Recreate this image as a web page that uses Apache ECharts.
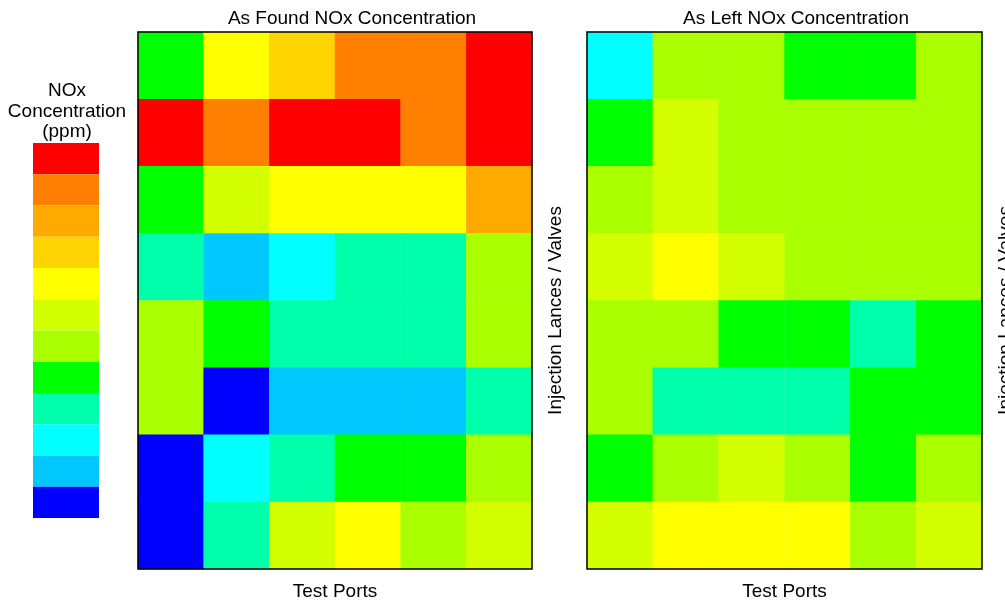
<!DOCTYPE html>
<html>
<head>
<meta charset="utf-8">
<script src="https://cdn.jsdelivr.net/npm/echarts@6/dist/echarts.min.js"></script>
<style>html,body{margin:0;padding:0;background:#fff}#c{width:1005px;height:602px}</style>
</head>
<body>
<div id="c"></div>
<script>
// Test ports (columns) and injection lances / valves (rows, top to bottom)
var testPorts = ['1', '2', '3', '4', '5', '6'];
var lances = ['1', '2', '3', '4', '5', '6', '7', '8'];

// NOx concentration level (0 = lowest band, 11 = highest band), rows top to bottom
var asFound = [
  [4, 7, 8, 10, 10, 11],
  [11, 10, 11, 11, 10, 11],
  [4, 6, 7, 7, 7, 9],
  [3, 1, 2, 3, 3, 5],
  [5, 4, 3, 3, 3, 5],
  [5, 0, 1, 1, 1, 3],
  [0, 2, 3, 4, 4, 5],
  [0, 3, 6, 7, 5, 6]
];
var asLeft = [
  [2, 5, 5, 4, 4, 5],
  [4, 6, 5, 5, 5, 5],
  [5, 6, 5, 5, 5, 5],
  [6, 7, 6, 5, 5, 5],
  [5, 5, 4, 4, 3, 4],
  [5, 3, 3, 3, 4, 4],
  [4, 5, 6, 5, 4, 5],
  [6, 7, 7, 7, 5, 6]
];

// Colour bands, lowest to highest
var bandColors = ['#0000FF', '#00C8FF', '#00FFFF', '#00FFAA', '#00FF00', '#AAFF00',
                  '#D4FF00', '#FFFF00', '#FFD400', '#FFAA00', '#FF8000', '#FF0000'];

var titles = ['As Found NOx Concentration', 'As Left NOx Concentration'];

function toCells(m) {
  var out = [];
  for (var r = 0; r < m.length; r++)
    for (var c = 0; c < m[r].length; c++)
      out.push([c, r, m[r][c]]);
  return out;
}

var FONT = "'Liberation Sans', Arial, sans-serif";
var chart = echarts.init(document.getElementById('c'), null, {renderer: 'canvas'});

var grids = [
  {left: 138, top: 32, width: 394, height: 537},
  {left: 587, top: 32, width: 395, height: 537}
];

function xAx(i) {
  return {
    type: 'category', gridIndex: i, data: testPorts, position: 'bottom',
    name: 'Test Ports', nameLocation: 'middle', nameGap: 13,
    nameTextStyle: {fontFamily: FONT, fontSize: 19, color: '#000', verticalAlign: 'top'},
    axisLine: {show: false}, axisTick: {show: false}, axisLabel: {show: false},
    splitLine: {show: false}
  };
}
function yAx(i) {
  return {
    type: 'category', gridIndex: i, data: lances, inverse: true, position: 'right',
    name: 'Injection Lances / Valves', nameLocation: 'middle', nameGap: 14, nameRotate: 90,
    nameTextStyle: {fontFamily: FONT, fontSize: 19, color: '#000', padding: [0, 20, 0, 0]},
    axisLine: {show: false}, axisTick: {show: false}, axisLabel: {show: false},
    splitLine: {show: false}
  };
}

var pieces = bandColors.map(function (col, i) { return {value: i, color: col, label: ''}; });

var titleStyle = {fontFamily: FONT, fontSize: 19, fontWeight: 'normal', color: '#000'};

chart.setOption({
  animation: false,
  backgroundColor: '#fff',
  title: [
    {text: titles[0], left: 352, top: 9, textAlign: 'center', padding: 0, textStyle: titleStyle},
    {text: titles[1], left: 796, top: 9, textAlign: 'center', padding: 0, textStyle: titleStyle},
    {text: 'NOx\nConcentration\n(ppm)', left: 67, top: 81, textAlign: 'center', padding: 0,
     textStyle: Object.assign({lineHeight: 20.5}, titleStyle)}
  ],
  grid: grids.map(function (g) {
    return Object.assign({show: true, z: 10, backgroundColor: 'transparent',
      borderColor: '#000', borderWidth: 1.5, containLabel: false, outerBoundsMode: 'none'}, g);
  }),
  xAxis: [xAx(0), xAx(1)],
  yAxis: [yAx(0), yAx(1)],
  visualMap: {
    type: 'piecewise', seriesIndex: [0, 1], pieces: pieces,
    left: 33, top: 143, orient: 'vertical',
    itemWidth: 66, itemHeight: 31.25, itemGap: 0, itemSymbol: 'rect',
    showLabel: false, hoverLink: false, selectedMode: false,
    textStyle: {fontSize: 0}, padding: 0
  },
  series: [
    {type: 'heatmap', xAxisIndex: 0, yAxisIndex: 0, data: toCells(asFound),
     itemStyle: {borderWidth: 0}, emphasis: {disabled: true}},
    {type: 'heatmap', xAxisIndex: 1, yAxisIndex: 1, data: toCells(asLeft),
     itemStyle: {borderWidth: 0}, emphasis: {disabled: true}}
  ]
});
</script>
</body>
</html>
